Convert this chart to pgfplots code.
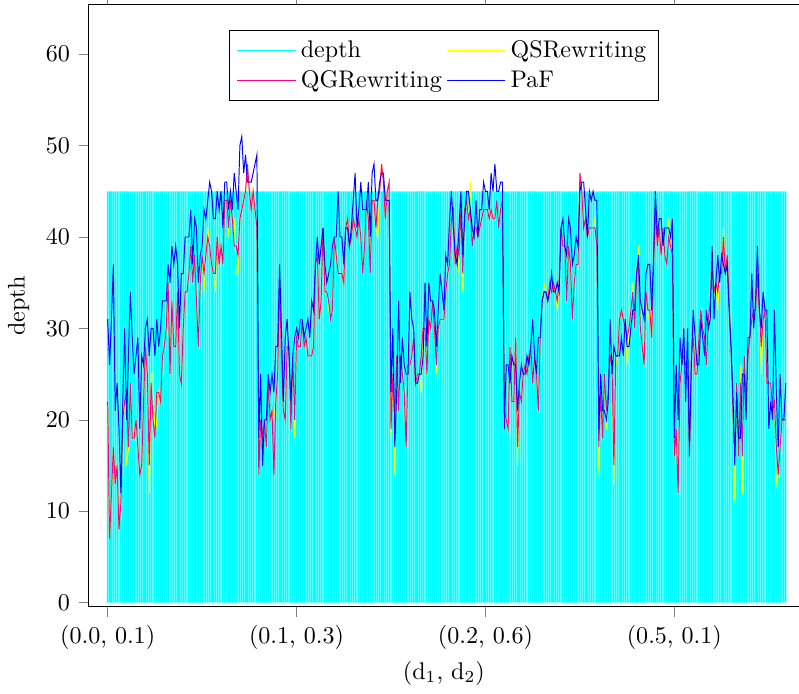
\documentclass[border=0pt]{standalone}
\usepackage{pgfplots}
\usepackage{pgfplotstable}
\pgfplotsset{compat=1.18}
\definecolor{depthcol}{RGB}{0,255,255}
\definecolor{qscol}{RGB}{255,255,0}
\definecolor{qgcol}{RGB}{255,0,128}
\definecolor{pafcol}{RGB}{0,0,255}

% columns: index, depth, QSRewriting, QGRewriting, PaF
\pgfplotstableread{
x d qs qg paf
0 45 22 22 31
1 45 7 7 26
2 45 12 12 31
3 45 17 17 37
4 45 13 13 21
5 45 15 15 24
6 45 8 8 19
7 45 11 11 12
8 45 20 20 22
9 45 22 22 30
10 45 15 23 20
11 45 17 17 27
12 45 24 24 34
13 45 18 18 29
14 45 18 18 25
15 45 20 20 27
16 45 17 17 29
17 45 14 14 19
18 45 15 15 27
19 45 22 22 26
20 45 28 28 30
21 45 25 25 31
22 45 12 15 27
23 45 25 24 30
24 45 25 20 30
25 45 18 18 27
26 45 20 23 31
27 45 23 23 28
28 45 22 22 30
29 45 27 27 33
30 45 28 28 33
31 45 30 30 33
32 45 35 35 37
33 45 25 25 35
34 45 33 33 39
35 45 28 28 37
36 45 28 28 39
37 45 34 34 37
38 45 25 25 30
39 45 24 24 36
40 45 30 30 36
41 45 34 34 40
42 45 34 34 40
43 45 36 36 40
44 45 39 39 43
45 45 35 35 37
46 45 38 38 42
47 45 33 33 41
48 45 28 28 35
49 45 35 35 38
50 45 38 38 39
51 45 34 36 43
52 45 38 38 42
53 45 41 40 44
54 45 39 39 46
55 45 37 37 45
56 45 36 36 42
57 45 34 36 42
58 45 40 40 45
59 45 37 37 43
60 45 39 39 45
61 45 37 37 41
62 45 44 44 46
63 45 44 44 46
64 45 40 41 43
65 45 44 44 45
66 45 42 42 43
67 45 42 39 47
68 45 36 39 45
69 45 36 38 43
70 45 42 42 50
71 45 43 43 51
72 45 44 44 47
73 45 45 45 49
74 45 48 48 46
75 45 45 45 46
76 45 43 43 46
77 45 45 45 47
78 45 43 43 48
79 45 41 41 49
80 45 14 14 18
81 45 20 20 25
82 45 18 18 15
83 45 20 20 20
84 45 17 17 20
85 45 24 24 25
86 45 20 20 23
87 45 21 21 25
88 45 20 14 23
89 45 22 22 28
90 45 25 25 28
91 45 35 35 37
92 45 27 27 30
93 45 21 21 22
94 45 20 20 29
95 45 28 28 31
96 45 28 28 27
97 45 19 19 22
98 45 27 27 27
99 45 18 20 29
100 45 29 29 30
101 45 28 28 29
102 45 28 28 31
103 45 31 31 31
104 45 28 28 29
105 45 29 29 30
106 45 27 27 31
107 45 27 27 29
108 45 27 27 33
109 45 28 28 32
110 45 37 37 37
111 45 38 38 40
112 45 31 31 37
113 45 33 33 39
114 45 41 41 41
115 45 34 34 37
116 45 34 34 35
117 45 32 33 36
118 45 31 31 37
119 45 32 32 39
120 45 40 40 40
121 45 38 38 40
122 45 36 36 45
123 45 36 36 40
124 45 36 36 40
125 45 35 35 37
126 45 41 41 41
127 45 42 42 41
128 45 39 39 39
129 45 40 40 41
130 45 42 42 44
131 45 41 41 47
132 45 40 40 41
133 45 42 42 43
134 45 40 40 46
135 45 36 36 43
136 45 39 39 43
137 45 44 44 43
138 45 42 42 46
139 45 36 36 40
140 45 44 44 47
141 45 44 44 48
142 45 41 41 44
143 45 40 44 44
144 45 45 45 46
145 45 48 48 47
146 45 46 46 47
147 45 42 42 44
148 45 45 45 44
149 45 46 46 44
150 45 18 19 23
151 45 25 25 30
152 45 14 20 17
153 45 27 27 23
154 45 21 21 33
155 45 27 27 24
156 45 25 25 29
157 45 23 23 26
158 45 17 17 25
159 45 26 26 25
160 45 26 26 34
161 45 27 27 31
162 45 29 29 30
163 45 24 24 24
164 45 25 25 24
165 45 25 25 25
166 45 23 27 25
167 45 30 30 27
168 45 30 30 35
169 45 25 25 28
170 45 31 31 35
171 45 30 30 33
172 45 33 33 33
173 45 30 30 32
174 45 25 26 28
175 45 30 30 32
176 45 31 31 36
177 45 31 31 34
178 45 31 31 32
179 45 34 34 38
180 45 36 36 37
181 45 37 37 42
182 45 42 42 45
183 45 43 43 41
184 45 37 37 38
185 45 39 39 37
186 45 36 38 41
187 45 43 43 45
188 45 34 36 38
189 45 43 43 42
190 45 44 44 45
191 45 42 42 45
192 45 46 43 43
193 45 39 39 41
194 45 41 41 40
195 45 41 41 44
196 45 40 40 40
197 45 41 41 43
198 45 42 42 43
199 45 43 43 46
200 45 43 43 45
201 45 43 43 45
202 45 42 42 43
203 45 43 43 47
204 45 42 42 45
205 45 42 42 48
206 45 44 44 45
207 45 41 41 45
208 45 43 43 46
209 45 44 44 46
210 45 21 21 19
211 45 20 20 26
212 45 19 19 26
213 45 28 28 24
214 45 22 22 27
215 45 22 22 26
216 45 29 29 26
217 45 15 17 21
218 45 23 23 24
219 45 22 22 26
220 45 25 25 25
221 45 26 26 25
222 45 25 25 27
223 45 27 27 26
224 45 28 28 28
225 45 24 24 31
226 45 27 27 27
227 45 25 25 25
228 45 21 21 29
229 45 29 29 29
230 45 33 33 33
231 45 35 34 34
232 45 34 34 34
233 45 33 33 33
234 45 35 35 34
235 45 34 34 36
236 45 35 35 34
237 45 34 34 34
238 45 32 33 35
239 45 35 35 34
240 45 41 41 41
241 45 39 39 42
242 45 39 39 39
243 45 33 33 38
244 45 39 39 42
245 45 37 37 41
246 45 31 31 37
247 45 35 35 38
248 45 37 37 40
249 45 37 37 39
250 45 47 47 45
251 45 45 45 46
252 45 41 41 46
253 45 42 42 43
254 45 40 40 40
255 45 41 41 45
256 45 41 41 44
257 45 41 41 45
258 45 42 41 44
259 45 39 39 44
260 45 14 17 19
261 45 23 23 25
262 45 18 18 21
263 45 25 25 21
264 45 19 21 20
265 45 23 23 22
266 45 27 27 31
267 45 26 26 25
268 45 13 15 28
269 45 26 27 27
270 45 27 27 27
271 45 31 31 27
272 45 32 32 29
273 45 31 31 27
274 45 30 30 31
275 45 26 29 28
276 45 30 30 28
277 45 32 32 30
278 45 35 34 32
279 45 30 30 32
280 45 36 36 36
281 45 39 37 38
282 45 30 30 33
283 45 28 28 32
284 45 26 26 31
285 45 34 34 36
286 45 31 32 37
287 45 32 32 37
288 45 29 29 32
289 45 37 37 38
290 45 43 43 45
291 45 39 39 40
292 45 41 41 42
293 45 38 38 42
294 45 41 41 39
295 45 38 38 41
296 45 37 37 41
297 45 42 40 41
298 45 39 39 40
299 45 38 38 42
300 45 16 16 18
301 45 19 19 26
302 45 12 12 20
303 45 24 24 29
304 45 26 26 26
305 45 27 27 30
306 45 26 26 22
307 45 25 25 30
308 45 17 17 16
309 45 27 27 26
310 45 29 29 32
311 45 25 25 29
312 45 25 25 26
313 45 29 29 26
314 45 32 32 31
315 45 30 30 29
316 45 29 29 27
317 45 26 26 32
318 45 31 31 30
319 45 33 33 31
320 45 39 37 39
321 45 34 34 31
322 45 35 35 35
323 45 32 34 38
324 45 36 36 35
325 45 36 36 38
326 45 41 40 37
327 45 36 36 36
328 45 38 38 37
329 45 33 33 32
330 45 28 28 28
331 45 21 21 23
332 45 11 16 15
333 45 24 24 23
334 45 16 16 18
335 45 26 24 18
336 45 12 16 25
337 45 27 27 25
338 45 22 22 20
339 45 27 27 29
340 45 29 29 29
341 45 31 31 36
342 45 32 32 30
343 45 32 32 33
344 45 36 36 39
345 45 32 32 32
346 45 25 28 30
347 45 31 31 34
348 45 32 32 32
349 45 24 24 32
350 45 24 24 19
351 45 24 24 22
352 45 21 21 20
353 45 22 22 32
354 45 13 17 23
355 45 14 14 17
356 45 17 17 25
357 45 20 20 20
358 45 20 20 20
359 45 20 20 24
}\depthdata

\begin{document}
\begin{tikzpicture}
\begin{axis}[
    width=295pt, height=250pt,
    scale only axis,
    xmin=-10, xmax=366,
    ymin=-0.45, ymax=65.4,
    xtick={0,100,200,300},
    xticklabels={{(0.0, 0.1)},{(0.1, 0.3)},{(0.2, 0.6)},{(0.5, 0.1)}},
    ytick={0,10,...,60},
    tick align=outside,
    xlabel={(d$_1$, d$_2$)},
    xlabel style={yshift=2pt},
    ylabel={depth},
    legend columns=2,
    legend cell align=left,
    legend style={at={(0.5,0.958)}, anchor=north},
]
\addplot[ybar, bar width=0.75, fill=depthcol, draw=none,
    legend image code/.code={\draw[depthcol] (0cm,0cm) -- (0.85cm,0cm);}]
    table[x=x, y=d] {\depthdata};
\addlegendentry{depth}
\addplot[qscol, no markers,
    legend image code/.code={\draw[qscol] (0cm,0cm) -- (0.85cm,0cm);}]
    table[x=x, y=qs] {\depthdata};
\addlegendentry{QSRewriting}
\addplot[qgcol, no markers,
    legend image code/.code={\draw[qgcol] (0cm,0cm) -- (0.85cm,0cm);}]
    table[x=x, y=qg] {\depthdata};
\addlegendentry{QGRewriting}
\addplot[pafcol, no markers,
    legend image code/.code={\draw[pafcol] (0cm,0cm) -- (0.85cm,0cm);}]
    table[x=x, y=paf] {\depthdata};
\addlegendentry{PaF}
\end{axis}
\pgfresetboundingbox
\path[use as bounding box] (current axis.outer south west)
    rectangle ([yshift=2pt]current axis.north east);
\end{tikzpicture}
\end{document}
